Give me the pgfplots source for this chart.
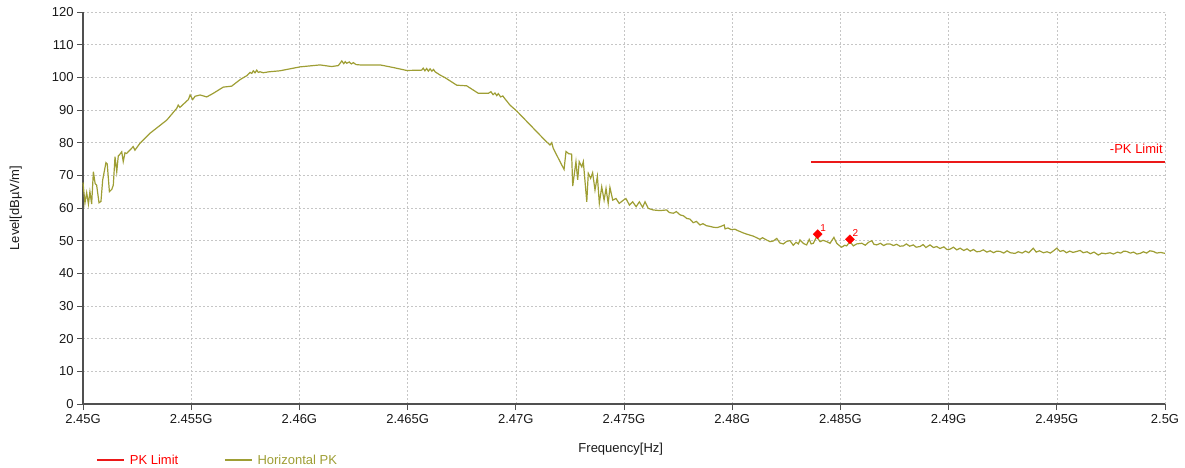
\documentclass[border=0pt]{standalone}
\usepackage{pgfplots}
\pgfplotsset{compat=1.18}
\usepackage{fontspec}
\setmainfont{Liberation Sans}
\definecolor{olivec}{RGB}{158,158,52}
\definecolor{limred}{RGB}{235,25,25}
\definecolor{axgray}{RGB}{80,80,80}
\begin{document}
\begin{tikzpicture}
\useasboundingbox (-83bp,-64bp) rectangle (1102bp,404bp);
\begin{axis}[
  at={(0,0)}, anchor=south west,
  scale only axis, width=1082bp, height=392bp,
  xmin=2450, xmax=2500, ymin=0, ymax=120,
  xtick={2450,2455,2460,2465,2470,2475,2480,2485,2490,2495,2500},
  xticklabels={2.45G,2.455G,2.46G,2.465G,2.47G,2.475G,2.48G,2.485G,2.49G,2.495G,2.5G},
  ytick={0,10,...,120},
  /pgf/number format/assume math mode=true,
  tick label style={font=\fontsize{13bp}{15bp}\selectfont, text=black!90},
  label style={font=\fontsize{13bp}{15bp}\selectfont, text=black!90},
  xlabel={Frequency[Hz]},
  ylabel={Level[dB\textmu V/m]},
  xlabel style={at={(axis description cs:0.497,-0.115)}, anchor=center},
  ylabel style={at={(axis description cs:-0.0622,0.5)}, anchor=center},
  axis x line*=bottom, axis y line*=left,
  axis line style={-, axgray, line width=1.2bp},
  tick align=outside, major tick length=6bp,
  tick style={axgray, line width=0.8bp},
  xticklabel style={yshift=-1bp},
  grid=major,
  major grid style={gray!45, dash pattern=on 2bp off 2bp, line width=0.6bp},
  legend columns=2,
  legend style={at={(axis description cs:0.009,-0.143)}, anchor=west, draw=none, fill=none,
    font=\fontsize{13bp}{15bp}\selectfont,
    /tikz/every odd column/.append style={column sep=3bp},
    /tikz/every even column/.append style={column sep=44bp}},
  legend image code/.code={\draw[#1] (0bp,0bp) -- (27bp,0bp);},
  clip=false,
]
\addplot[limred, line width=2bp] coordinates {(2483.66,74) (2500,74)};
\addlegendentry{\textcolor{red}{PK Limit}}
\addplot[olivec, line width=1.2bp] coordinates {
(2450.00,67.8) (2450.09,61.5) (2450.17,64.7) (2450.25,61.2) (2450.32,65.0) (2450.40,61.2)
(2450.48,71.1) (2450.56,67.5) (2450.63,67.0) (2450.74,61.6) (2450.83,62.0) (2450.91,68.6)
(2451.06,73.9) (2451.12,73.5) (2451.22,65.0) (2451.33,65.7) (2451.40,67.0) (2451.48,75.7)
(2451.56,71.1) (2451.63,75.9) (2451.71,76.5) (2451.79,77.2) (2451.86,74.2) (2451.94,76.9)
(2452.02,76.7) (2452.09,77.2) (2452.25,78.3) (2452.32,78.8) (2452.40,77.7) (2452.63,79.8)
(2453.10,82.9) (2453.87,86.9) (2454.33,90.5) (2454.40,91.5) (2454.48,90.8) (2454.87,93.2)
(2454.95,94.6) (2455.07,93.2) (2455.18,94.2) (2455.41,94.6) (2455.72,94.0) (2456.02,95.1)
(2456.48,97.0) (2456.87,97.3) (2457.26,99.3) (2457.41,99.9) (2457.49,100.2) (2457.57,100.5)
(2457.64,101.0) (2457.72,101.5) (2457.80,101.2) (2457.87,102.0) (2457.95,101.4) (2458.03,102.2)
(2458.10,101.5) (2458.18,101.7) (2458.33,101.4) (2458.60,101.7) (2459.10,102.0) (2460.03,103.2)
(2460.95,103.8) (2461.49,103.3) (2461.80,103.6) (2461.96,105.0) (2462.05,104.2) (2462.12,104.8)
(2462.19,104.3) (2462.30,104.7) (2462.40,104.1) (2462.49,104.5) (2462.62,103.9) (2462.80,103.8)
(2463.73,103.8) (2464.34,103.0) (2464.96,102.1) (2465.65,102.2) (2465.72,102.8) (2465.80,102.0)
(2465.88,102.7) (2465.96,101.9) (2466.04,102.6) (2466.12,101.9) (2466.20,102.4) (2466.27,101.7)
(2466.50,100.7) (2466.73,99.9) (2467.27,97.6) (2467.73,97.4) (2468.27,95.1) (2468.73,95.1)
(2468.85,95.6) (2468.95,94.7) (2469.04,95.2) (2469.12,94.4) (2469.19,95.0) (2469.30,94.0)
(2469.40,94.3) (2469.50,93.4) (2469.60,92.6) (2469.73,91.5) (2470.04,89.7) (2471.12,82.3)
(2471.40,80.4) (2471.58,79.3) (2471.66,80.0) (2471.73,78.3) (2471.89,76.2) (2472.23,71.8)
(2472.32,77.3) (2472.45,76.6) (2472.58,76.5) (2472.63,66.7) (2472.78,74.2) (2472.86,68.6)
(2472.93,74.2) (2473.05,72.6) (2473.12,74.2) (2473.28,61.9) (2473.35,70.6) (2473.46,69.1)
(2473.55,70.8) (2473.66,65.5) (2473.77,69.7) (2473.86,61.4) (2473.97,66.5) (2474.08,62.4)
(2474.17,66.0) (2474.27,61.4) (2474.35,66.3) (2474.48,62.4) (2474.63,62.9) (2474.78,61.4)
(2474.97,62.4) (2475.09,62.9) (2475.25,60.9) (2475.40,61.9) (2475.56,60.4) (2475.71,61.9)
(2475.86,60.2) (2475.97,61.9) (2476.12,59.9) (2476.35,59.4) (2476.66,59.2)
(2476.97,59.4) (2477.10,58.6) (2477.28,58.4) (2477.42,58.9) (2477.59,57.9) (2477.75,57.6)
(2477.90,56.8) (2478.05,56.6) (2478.20,55.5) (2478.35,55.9) (2478.51,54.8) (2478.65,55.2)
(2478.80,54.6) (2478.95,54.4) (2479.13,54.1) (2479.30,54.0) (2479.45,54.3) (2479.63,54.8)
(2479.67,53.6) (2479.80,53.9) (2479.95,53.4) (2480.13,53.5) (2480.25,53.1) (2480.36,52.8)
(2480.50,52.4) (2480.67,52.0) (2480.82,51.7) (2480.97,51.4) (2481.10,51.0) (2481.28,50.4)
(2481.40,50.9) (2481.59,50.2) (2481.75,49.7) (2481.90,49.9) (2482.06,50.7) (2482.20,49.3)
(2482.36,49.0) (2482.52,49.8) (2482.67,50.0) (2482.82,48.6) (2482.95,49.5) (2483.06,49.0)
(2483.13,50.2) (2483.30,49.1) (2483.44,48.7) (2483.56,50.4) (2483.65,49.0) (2483.75,49.2)
(2483.90,51.2) (2484.06,49.7) (2484.20,50.1) (2484.37,49.7) (2484.52,49.2) (2484.70,51.0)
(2484.83,49.2) (2484.95,48.5) (2485.06,48.0) (2485.20,48.6) (2485.29,48.4) (2485.44,49.7)
(2485.60,48.4) (2485.75,49.0) (2485.99,49.2) (2486.15,48.6) (2486.30,49.5) (2486.45,50.0)
(2486.55,48.9) (2486.68,48.7) (2486.85,49.2) (2487.00,48.5) (2487.15,49.0) (2487.29,49.0)
(2487.45,48.5) (2487.60,48.9) (2487.75,48.3) (2487.91,48.4) (2488.05,49.0) (2488.20,48.3)
(2488.37,48.7) (2488.50,48.0) (2488.68,48.2) (2488.82,48.8) (2488.95,47.9) (2489.14,48.7)
(2489.30,47.9) (2489.45,48.2) (2489.60,47.6) (2489.78,48.1) (2489.92,47.3) (2490.07,47.4)
(2490.22,48.0) (2490.38,47.2) (2490.53,47.7) (2490.70,47.0) (2490.85,47.5) (2491.00,46.8)
(2491.15,47.3) (2491.30,46.6) (2491.45,46.7) (2491.60,47.2) (2491.77,46.5) (2491.92,46.9)
(2492.08,46.3) (2492.22,46.8) (2492.38,46.7) (2492.55,46.2) (2492.70,46.9) (2492.85,46.3)
(2493.07,46.1) (2493.22,46.6) (2493.40,46.2) (2493.55,46.8) (2493.70,46.3) (2493.91,47.7)
(2494.05,46.5) (2494.20,46.9) (2494.38,46.3) (2494.55,46.6) (2494.70,46.2) (2494.85,46.9)
(2495.00,47.7) (2495.15,46.7) (2495.30,47.0) (2495.45,46.3) (2495.60,46.8) (2495.75,46.4)
(2495.92,46.7) (2496.08,47.0) (2496.22,46.3) (2496.40,46.6) (2496.55,46.0) (2496.72,46.5)
(2496.92,45.6) (2497.08,46.2) (2497.25,46.0) (2497.46,46.3) (2497.62,45.9) (2497.80,46.5)
(2497.95,46.2) (2498.10,46.8) (2498.23,46.7) (2498.40,46.2) (2498.55,46.5) (2498.70,45.9)
(2498.85,46.1) (2499.00,46.6) (2499.15,46.2) (2499.30,46.9) (2499.46,46.7) (2499.62,46.2)
(2499.80,46.4) (2500.00,46.1)
};
\addlegendentry{\textcolor{olivec}{Horizontal PK}}
\addplot[only marks, mark=square*, mark options={rotate=45}, mark size=3.2bp, red,
  point meta=explicit symbolic, nodes near coords,
  every node near coord/.append style={anchor=south west, font=\fontsize{10bp}{11bp}\selectfont, text=red, inner sep=0bp, xshift=2.5bp, yshift=2.5bp}]
  coordinates {(2483.95,52.0) [1] (2485.44,50.4) [2]};
\node[anchor=south east, text=red, font=\fontsize{13bp}{15bp}\selectfont, inner sep=1bp] at (axis cs:2499.95,76.2) {-PK Limit};
\end{axis}
\end{tikzpicture}
\end{document}
